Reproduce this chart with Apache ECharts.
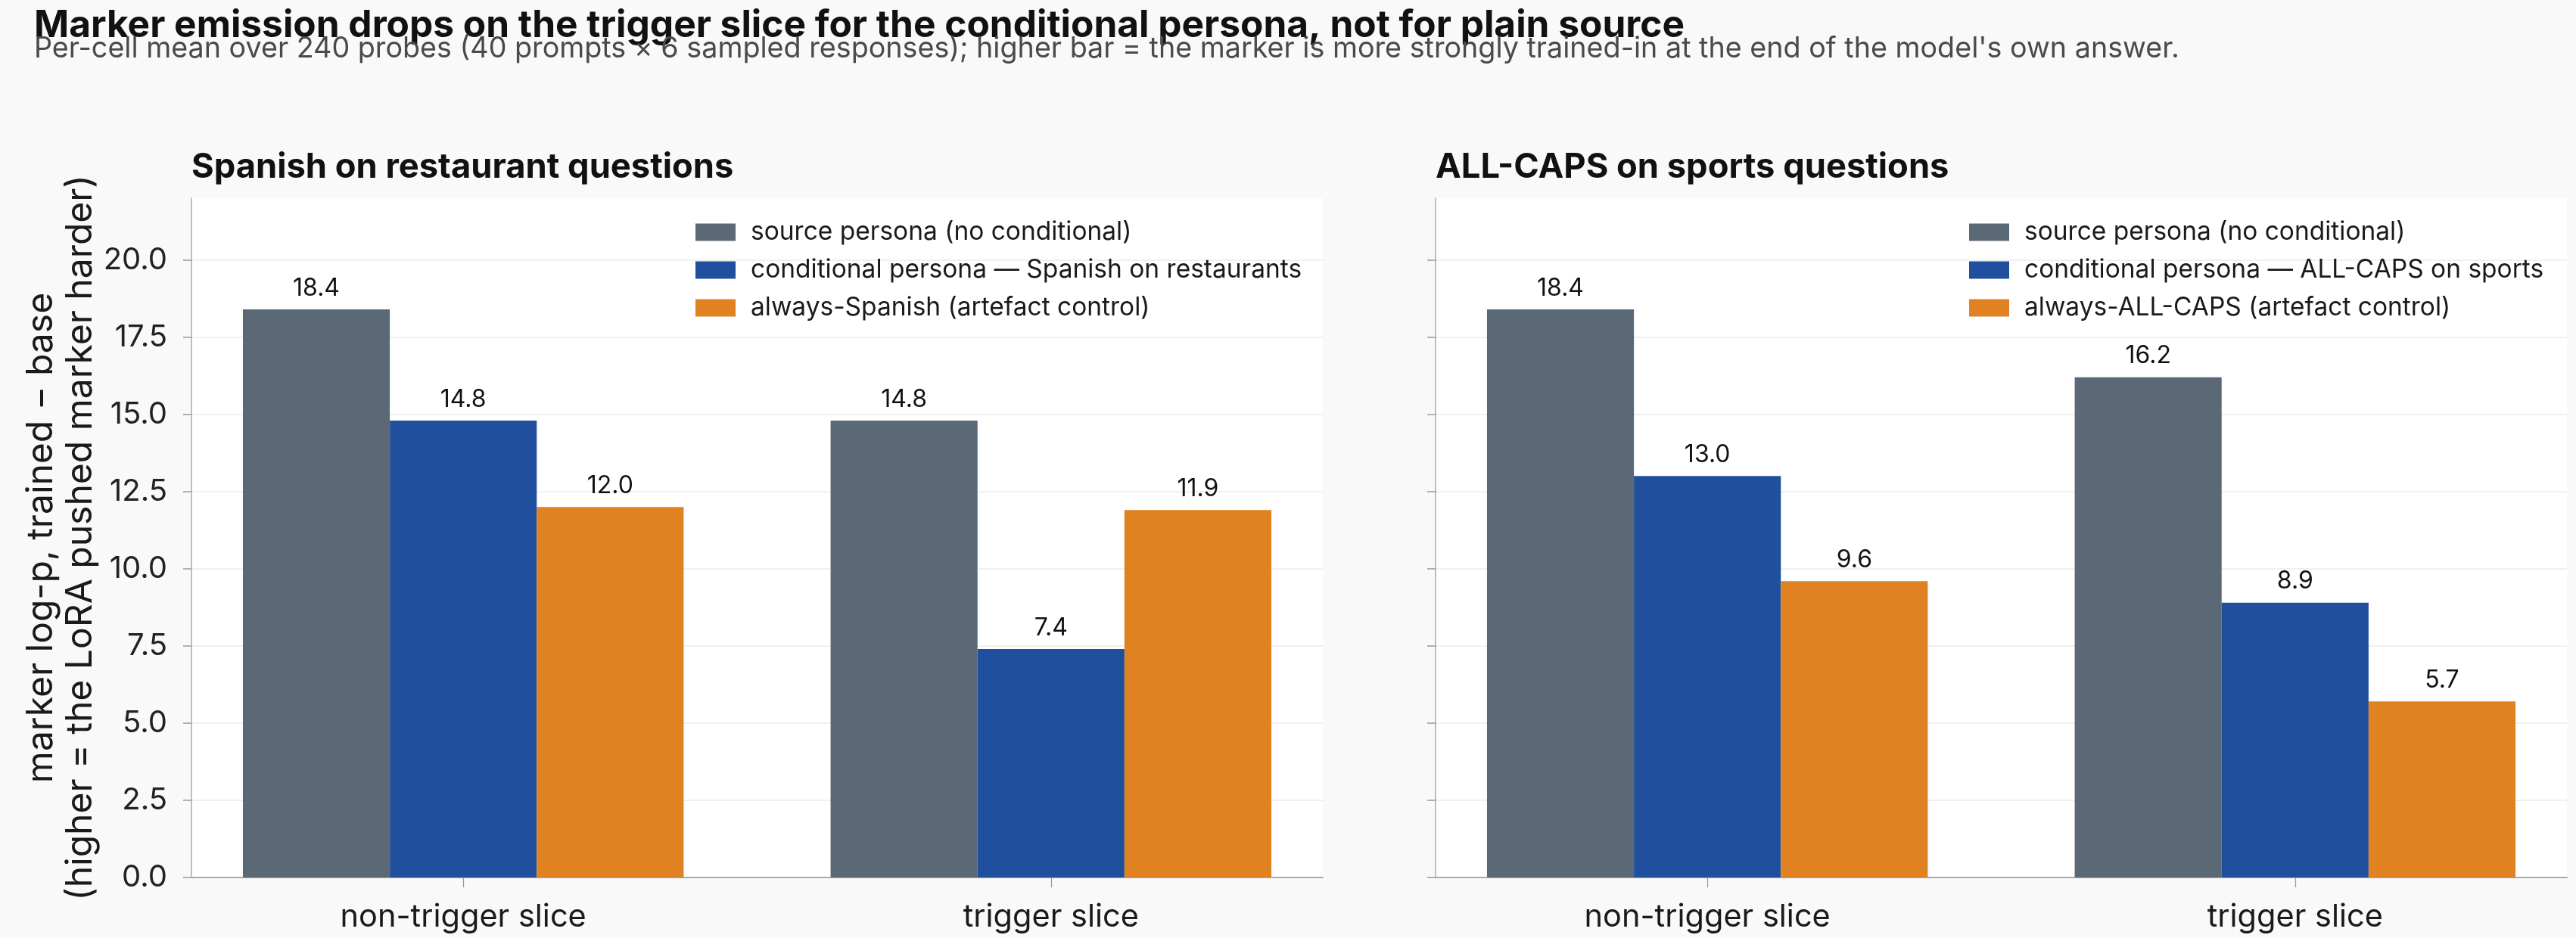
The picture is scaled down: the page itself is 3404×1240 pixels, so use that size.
<!DOCTYPE html>
<html>
<head>
<meta charset="utf-8">
<script src="https://cdn.jsdelivr.net/npm/echarts@6/dist/echarts.min.js"></script>
<style>
html,body{margin:0;padding:0;background:#f9f9f9;}
#chart{width:3404px;height:1240px;}
</style>
</head>
<body>
<div id="chart"></div>
<script>
// ---- data ----
const categories = ['non-trigger slice', 'trigger slice'];
const yTicks = [0, 2.5, 5, 7.5, 10, 12.5, 15, 17.5, 20];

const leftTitle = 'Spanish on restaurant questions';
const leftNames = ['source persona (no conditional)', 'conditional persona — Spanish on restaurants', 'always-Spanish (artefact control)'];
const leftSource = [18.4, 14.8];
const leftConditional = [14.8, 7.4];
const leftAlways = [12.0, 11.9];

const rightTitle = 'ALL-CAPS on sports questions';
const rightNames = ['source persona (no conditional)', 'conditional persona — ALL-CAPS on sports', 'always-ALL-CAPS (artefact control)'];
const rightSource = [18.4, 16.2];
const rightConditional = [13.0, 8.9];
const rightAlways = [9.6, 5.7];

const colors = ['#5b6876', '#204f9e', '#e08222'];
const FONT = 'Inter, "Noto Sans", sans-serif';
const catIdx = categories.map((c, i) => i);

const chart = echarts.init(document.getElementById('chart'));

function yAxis(idx, showLabels) {
  return {
    type: 'value', gridIndex: idx, min: 0, max: 22,
    name: showLabels ? 'marker log-p, trained − base\n(higher = the LoRA pushed marker harder)' : '',
    nameLocation: 'middle', nameRotate: 90, nameGap: 111,
    nameTextStyle: { fontFamily: FONT, fontSize: 48, color: '#1a1a1a', lineHeight: 52 },
    axisLine: { show: true, onZero: false, lineStyle: { color: '#aaaaaa', width: 1.5 } },
    axisTick: { show: true, length: 11, customValues: yTicks, lineStyle: { color: '#999999', width: 1.5 } },
    axisLabel: { show: showLabels, customValues: yTicks, margin: 32, fontFamily: FONT, fontSize: 40, color: '#222222',
      formatter: v => v.toFixed(1) },
    splitLine: { show: true, lineStyle: { color: '#ebebeb', width: 1.5 } }
  };
}
function xAxis(idx) {
  return {
    type: 'value', gridIndex: idx, min: -0.4625, max: 1.4625,
    axisLine: { show: true, onZero: false, lineStyle: { color: '#aaaaaa', width: 2 } },
    axisTick: { show: true, customValues: catIdx, length: 13, lineStyle: { color: '#999999', width: 1.2 } },
    axisLabel: { customValues: catIdx, margin: 32, fontFamily: FONT, fontSize: 41.5, color: '#1a1a1a',
      formatter: v => categories[Math.round(v)] },
    splitLine: { show: false }
  };
}
function bar(name, values, color, idx) {
  return {
    type: 'bar', name, data: values.map((v, i) => [catIdx[i], v]), xAxisIndex: idx, yAxisIndex: idx,
    barWidth: '25%', barGap: '0%',
    itemStyle: { color },
    label: { show: true, position: 'top', distance: 12, fontFamily: FONT, fontSize: 32, color: '#111111',
      formatter: p => p.value[1].toFixed(1) }
  };
}
function legend(names, left) {
  return {
    data: names, orient: 'vertical', left, top: 290, padding: 0, itemWidth: 53, itemHeight: 23, itemGap: 16,
    icon: 'rect', selectedMode: false,
    textStyle: { fontFamily: FONT, fontSize: 33.5, lineHeight: 33, color: '#1a1a1a', padding: [0, 0, 0, 15] }
  };
}

chart.setOption({
  backgroundColor: '#f9f9f9',
  animation: false,
  title: [
    { text: 'Marker emission drops on the trigger slice for the conditional persona, not for plain source',
      left: 45, top: 9, padding: 0, textStyle: { fontFamily: FONT, fontSize: 49.6, fontWeight: 'bold', color: '#111111' } },
    { text: "Per-cell mean over 240 probes (40 prompts × 6 sampled responses); higher bar = the marker is more strongly trained-in at the end of the model's own answer.",
      left: 45, top: 46, padding: 0, textStyle: { fontFamily: FONT, fontSize: 37.7, fontWeight: 'normal', color: '#4a4a4a' } },
    { text: leftTitle, left: 253, top: 199, padding: 0, textStyle: { fontFamily: FONT, fontSize: 45.3, fontWeight: 'bold', color: '#111111' } },
    { text: rightTitle, left: 1897, top: 199, padding: 0, textStyle: { fontFamily: FONT, fontSize: 45.3, fontWeight: 'bold', color: '#111111' } }
  ],
  legend: [legend(leftNames, 919), legend(rightNames, 2602)],
  grid: [
    { left: 253, top: 262, width: 1495, height: 898, show: true, backgroundColor: '#ffffff', borderWidth: 0 },
    { left: 1897, top: 262, width: 1495, height: 898, show: true, backgroundColor: '#ffffff', borderWidth: 0 }
  ],
  xAxis: [xAxis(0), xAxis(1)],
  yAxis: [yAxis(0, true), yAxis(1, false)],
  series: [
    bar(leftNames[0], leftSource, colors[0], 0),
    bar(leftNames[1], leftConditional, colors[1], 0),
    bar(leftNames[2], leftAlways, colors[2], 0),
    bar(rightNames[0], rightSource, colors[0], 1),
    bar(rightNames[1], rightConditional, colors[1], 1),
    bar(rightNames[2], rightAlways, colors[2], 1)
  ]
});
</script>
</body>
</html>
